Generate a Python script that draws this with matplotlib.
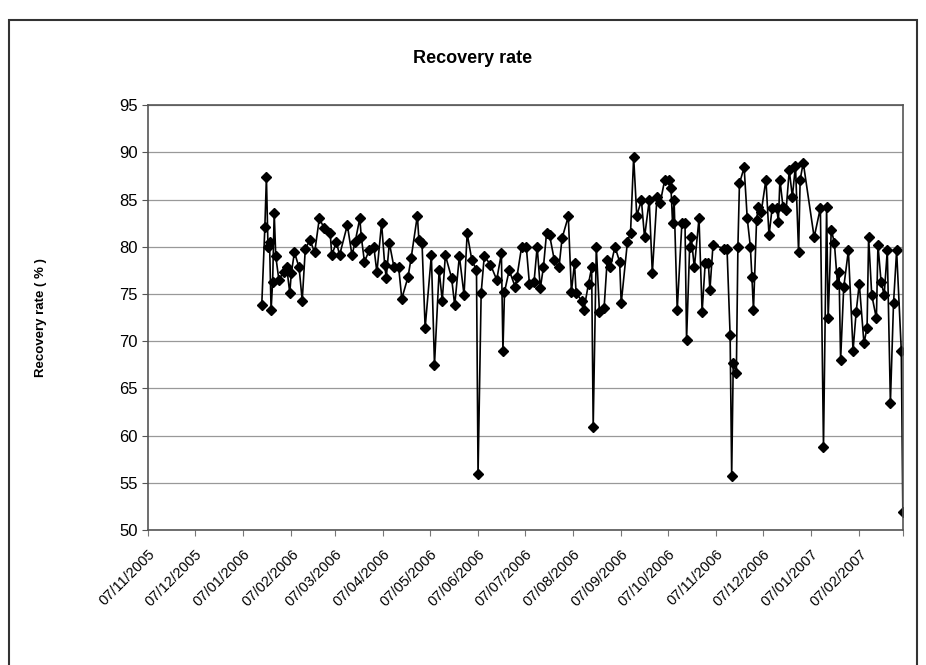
import numpy as np
import pandas as pd
import matplotlib
matplotlib.use('Agg')
from matplotlib import pyplot as plt
from matplotlib.patches import Rectangle

plt.rcParams['font.family'] = ['Liberation Sans', 'DejaVu Sans']

# sample days, counted from 07/11/2005
start = pd.Timestamp('2005-11-07')
days = [73, 75, 76, 77, 78, 79, 80, 81, 82, 84, 87, 89, 91, 92, 94, 97, 99, 101, 104, 107,
        110, 113, 117, 118, 121, 123, 128, 131, 133, 136, 137, 139, 142, 145, 147, 150, 152, 153, 155, 158,
        161, 163, 167, 169, 173, 174, 176, 178, 182, 184, 187, 189, 191, 195, 197, 200, 203, 205, 208, 211,
        212, 214, 216, 220, 224, 227, 228, 229, 232, 236, 237, 240, 243, 245, 248, 250, 252, 254, 256, 258,
        261, 264, 266, 270, 272, 274, 275, 279, 280, 283, 285, 286, 288, 290, 293, 295, 297, 300, 303, 304,
        308, 310, 312, 314, 317, 319, 322, 324, 327, 329, 332, 335, 336, 337, 338, 340, 343, 345, 346, 348,
        349, 351, 354, 356, 358, 360, 361, 363, 370, 372, 374, 375, 376, 378, 379, 380, 383, 385, 387, 388,
        389, 391, 392, 394, 397, 399, 401, 404, 405, 406, 408, 410, 412, 414, 416, 418, 419, 421, 428, 432,
        434, 436, 437, 439, 441, 443, 444, 445, 447, 450, 453, 455, 457, 460, 462, 463, 465, 468, 469, 471,
        473, 475, 477, 479, 481, 484, 485]

# recovery rate (%)
rate = [73.8, 82.1, 87.4, 80.0, 80.5, 73.3, 76.3, 83.6, 79.0, 76.5, 77.3, 77.9, 75.1, 77.2, 79.4, 77.8, 74.3, 79.8, 80.7, 79.4,
        83.0, 82.0, 81.4, 79.1, 80.5, 79.1, 82.3, 79.1, 80.5, 83.0, 81.0, 78.4, 79.6, 80.0, 77.3, 82.5, 78.1, 76.7, 80.4, 77.8,
        77.8, 74.5, 76.8, 78.8, 83.3, 80.7, 80.4, 71.4, 79.1, 67.5, 77.5, 74.3, 79.1, 76.7, 73.8, 79.0, 74.9, 81.4, 78.6, 77.5,
        55.9, 75.1, 79.0, 78.1, 76.5, 79.3, 69.0, 75.2, 77.5, 75.7, 76.8, 80.0, 80.0, 76.1, 76.3, 80.0, 75.6, 77.8, 81.4, 81.2,
        78.6, 77.8, 80.9, 83.2, 75.2, 78.3, 75.1, 74.2, 73.3, 76.1, 77.8, 60.9, 80.0, 73.1, 73.5, 78.6, 77.8, 80.0, 78.4, 74.0,
        80.5, 81.5, 89.5, 83.3, 84.9, 81.0, 84.9, 77.2, 85.3, 84.6, 87.1, 87.1, 86.2, 82.5, 84.9, 73.3, 82.5, 82.5, 70.1, 80.0,
        81.0, 77.8, 83.0, 73.1, 78.3, 78.3, 75.4, 80.2, 79.8, 79.8, 70.6, 55.7, 67.7, 66.6, 80.0, 86.7, 88.4, 83.0, 80.0, 76.8,
        73.3, 82.8, 84.2, 83.7, 87.1, 81.2, 84.1, 84.1, 82.6, 87.1, 84.2, 83.9, 88.1, 85.3, 88.6, 79.4, 87.1, 88.9, 81.0, 84.1,
        58.8, 84.2, 72.4, 81.8, 80.4, 76.0, 77.3, 68.0, 75.7, 79.6, 69.0, 73.1, 76.1, 69.8, 71.4, 81.0, 74.9, 72.4, 80.2, 76.3,
        74.9, 79.6, 63.5, 74.0, 79.6, 69.0, 51.9]

tick_dates = pd.date_range('2005-11-01', '2007-03-01', freq='MS') + pd.Timedelta(days=6)
tick_labels = [d.strftime('%d/%m/%Y') for d in tick_dates[:-1]] + ['']

dates = start + pd.to_timedelta(days, unit='D')

fig = plt.figure(figsize=(9.26, 6.65), dpi=100)
ax = fig.add_axes([0.160, 0.203, 0.815, 0.639])

ax.plot(dates, rate, color='black', linewidth=1.2, marker='D', markersize=5.5,
        markerfacecolor='black', markeredgecolor='black')

ax.set_ylim(50, 95)
ax.set_yticks(np.arange(50, 96, 5))
ax.set_xlim(tick_dates[0], tick_dates[-1])
ax.set_xticks(tick_dates)
ax.set_xticklabels(tick_labels, rotation=45, ha='right', rotation_mode='anchor', fontsize=10.5)
ax.tick_params(axis='y', labelsize=12, direction='out', length=4, color='#555555')
ax.tick_params(axis='x', direction='out', length=4, color='#777777', pad=8)

ax.yaxis.grid(True, color='#999999', linewidth=0.9)
ax.set_axisbelow(True)
for s in ax.spines.values():
    s.set_color('#555555')
    s.set_linewidth(1.2)

ax.set_ylabel('Recovery rate ( % )', fontsize=9.5, fontweight='bold', labelpad=52)
fig.text(0.51, 0.912, 'Recovery rate', ha='center', va='center', fontsize=13, fontweight='bold')

# chart area frame
fig.patches.append(Rectangle((0.010, -0.05), 0.980, 1.02, transform=fig.transFigure,
                             fill=False, edgecolor='#333333', linewidth=1.5))

fig.savefig('out.png', dpi=100)
